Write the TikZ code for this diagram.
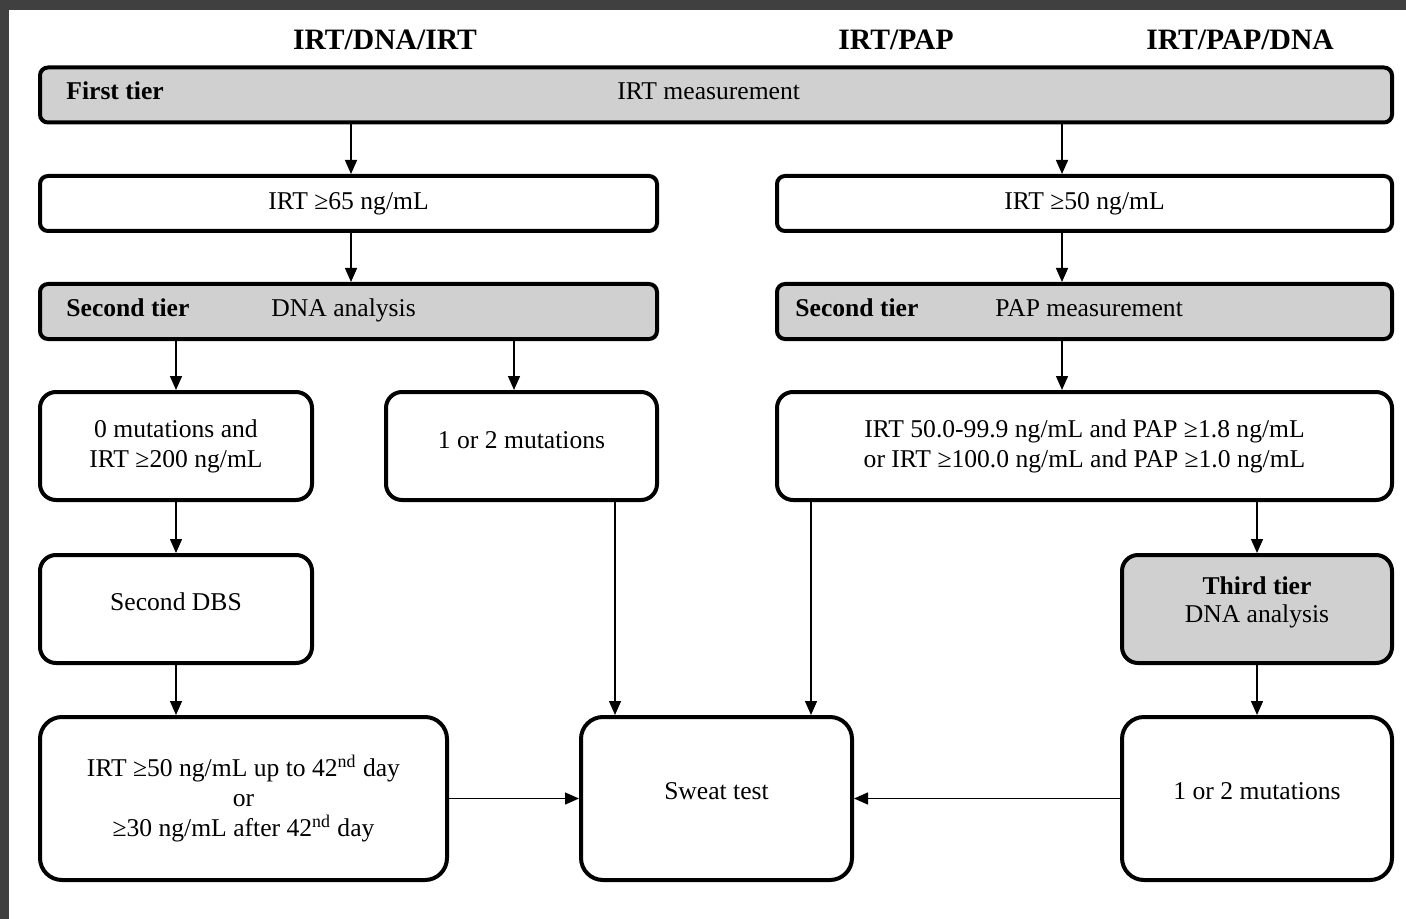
\documentclass[tikz,border=0pt]{standalone}
\usepackage{fontspec}
\setmainfont{Liberation Serif}
\usetikzlibrary{arrows.meta}
\definecolor{tiergray}{RGB}{208,208,208}
\definecolor{framegray}{RGB}{64,64,64}
\begin{document}
\begin{tikzpicture}[x={(0.5pt,0pt)}, y={(0pt,-0.5pt)},
  txt/.style={font=\fontsize{12.8}{15}\selectfont},
  box/.style={txt, draw=black, line width=2pt, rounded corners=4pt, fill=white,
    minimum height=27.5pt, inner sep=0pt, align=center},
  tierbox/.style={box, fill=tiergray},
  tallbox/.style={box, rounded corners=8pt, minimum height=54pt},
  tallerbox/.style={box, rounded corners=11pt, minimum height=81.5pt},
  lbl/.style={txt, inner sep=0pt, anchor=base west},
  boldlbl/.style={lbl, font=\bfseries\fontsize{12.8}{15}\selectfont},
  head/.style={inner sep=0pt, font=\bfseries\fontsize{14.8}{17}\selectfont},
  arr/.style={line width=0.7pt, -{Triangle[length=7pt,width=6pt]}}]

% page frame
\useasboundingbox (0,0) rectangle (1406,919);
\fill[framegray] (0,0) rectangle (1406,919);
\fill[white] (9,10) rectangle (1406,919);

% column headings
\node[head] (h1) at (385,40) {IRT/DNA/IRT};
\node[head] (h2) at (896,40) {IRT/PAP};
\node[head] (h3) at (1240,40) {IRT/PAP/DNA};

% first tier
\node[tierbox, minimum width=676pt] (t1) at (716,95) {};
\node[boldlbl] (t1a) at (66,100) {First tier};
\node[lbl] (t1b) at (617,100) {IRT measurement};

% cut-offs
\node[box, minimum width=308.5pt] (a65) at (348.5,203.5) {IRT ≥65 ng/mL};
\node[box, minimum width=307.5pt] (a50) at (1084.5,203.5) {IRT ≥50 ng/mL};

% second tier
\node[tierbox, minimum width=308.5pt] (s2l) at (348.5,311.5) {};
\node[boldlbl] (s2la) at (66,316) {Second tier};
\node[lbl] (s2lb) at (271,316) {DNA analysis};
\node[tierbox, minimum width=307.5pt] (s2r) at (1084.5,311.5) {};
\node[boldlbl] (s2ra) at (795,316) {Second tier};
\node[lbl] (s2rb) at (995,316) {PAP measurement};

% outcomes of the second tier
\node[tallbox, minimum width=136pt] (m0) at (176,446) {0 mutations and\\IRT ≥200 ng/mL};
\node[tallbox, minimum width=135.5pt, text depth=6pt] (m12) at (521.5,446) {1 or 2 mutations};
\node[tallbox, minimum width=307.5pt] (pap) at (1084.5,446)
  {IRT 50.0-99.9 ng/mL and PAP ≥1.8 ng/mL\\or IRT ≥100.0 ng/mL and PAP ≥1.0 ng/mL};

% fourth row
\node[tallbox, minimum width=136pt, text depth=7pt] (dbs) at (176,609) {Second DBS};
\node[tallbox, fill=tiergray, minimum width=135pt, text depth=9.8pt,
  font=\fontsize{12.8}{14}\selectfont] (t3) at (1257,609)
  {\textbf{Third tier}\\DNA analysis};

% bottom row
\node[tallerbox, minimum width=203.5pt] (late) at (243.5,798.5)
  {IRT ≥50 ng/mL up to 42\textsuperscript{nd} day\\or\\≥30 ng/mL after 42\textsuperscript{nd} day};
\node[tallerbox, minimum width=135.5pt, text depth=7.5pt] (sweat) at (716.5,798.5) {Sweat test};
\node[tallerbox, minimum width=135pt, text depth=7.5pt] (m12b) at (1257,798.5) {1 or 2 mutations};

% connector columns
\coordinate (cA) at (351,0);
\coordinate (cB) at (1062,0);
\coordinate (cC) at (176,0);
\coordinate (cD) at (514,0);
\coordinate (cE) at (615,0);
\coordinate (cF) at (811,0);
\coordinate (cG) at (1257,0);

% connectors
\draw[arr] (t1.south -| cA) -- (a65.north -| cA);
\draw[arr] (t1.south -| cB) -- (a50.north -| cB);
\draw[arr] (a65.south -| cA) -- (s2l.north -| cA);
\draw[arr] (a50.south -| cB) -- (s2r.north -| cB);
\draw[arr] (s2l.south -| cC) -- (m0.north);
\draw[arr] (s2l.south -| cD) -- (m12.north -| cD);
\draw[arr] (s2r.south -| cB) -- (pap.north -| cB);
\draw[arr] (m0.south) -- (dbs.north);
\draw[arr] (dbs.south) -- (late.north -| cC);
\draw[arr] (m12.south -| cE) -- (sweat.north -| cE);
\draw[arr] (pap.south -| cF) -- (sweat.north -| cF);
\draw[arr] (pap.south -| cG) -- (t3.north);
\draw[arr] (t3.south) -- (m12b.north);
\draw[arr] (late.east) -- (sweat.west);
\draw[arr] (m12b.west) -- (sweat.east);
\end{tikzpicture}
\end{document}
